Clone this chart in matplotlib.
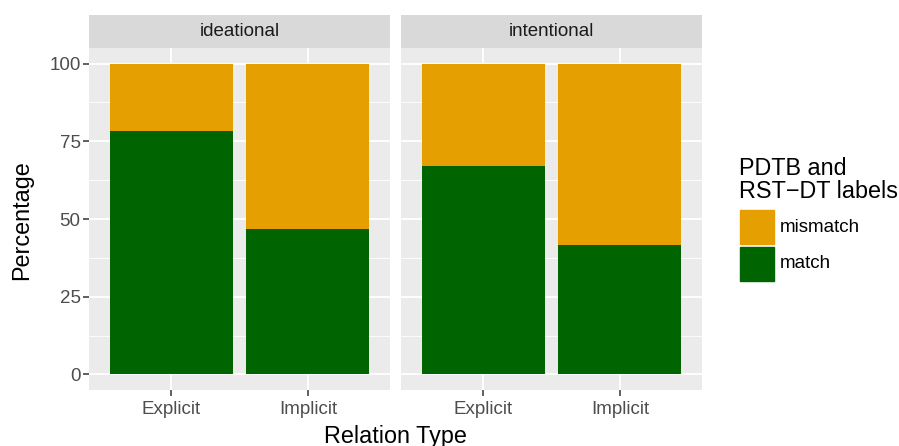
import matplotlib
matplotlib.use("Agg")
import matplotlib.pyplot as plt
from matplotlib.patches import Rectangle

plt.rcParams['font.family'] = ['Liberation Sans', 'DejaVu Sans']

panels = ["ideational", "intentional"]
categories = ["Explicit", "Implicit"]
match = {"ideational": [78.2, 46.7], "intentional": [66.9, 41.5]}
mismatch = {p: [100 - v for v in match[p]] for p in panels}
yticks = [0, 25, 50, 75, 100]
legend_labels = ["mismatch", "match"]
col_mismatch = "#E69F00"
col_match = "#006400"

SMALL = 13.5
BIG = 16.8

W, H = 899, 446
fig = plt.figure(figsize=(W / 100, H / 100), dpi=100)

def fx(px):
    return px / W

def fy(py):
    return 1 - py / H

panel_x = [(89, 390), (401, 702)]
top, bottom = 48, 390
strip_top = 15

for i, p in enumerate(panels):
    x0, x1 = panel_x[i]
    ax = fig.add_axes([fx(x0), fy(bottom), fx(x1 - x0), (bottom - top) / H])
    ax.set_facecolor("#EBEBEB")
    xs = list(range(1, len(categories) + 1))
    ax.bar(xs, match[p], width=0.9, color=col_match, zorder=3)
    ax.bar(xs, mismatch[p], width=0.9, bottom=match[p], color=col_mismatch, zorder=3)
    ax.set_xlim(0.4, 2.6)
    ax.set_ylim(-5, 105)
    ax.set_yticks(yticks)
    ax.set_yticks([12.5, 37.5, 62.5, 87.5], minor=True)
    ax.set_xticks(xs)
    ax.set_xticklabels(categories)
    ax.grid(which="major", color="white", linewidth=1.3, zorder=0)
    ax.grid(which="minor", axis="y", color="white", linewidth=0.6, zorder=0)
    for s in ax.spines.values():
        s.set_visible(False)
    ax.tick_params(axis="both", which="major", length=4, width=1.1, color="#333333",
                   labelsize=SMALL, labelcolor="#4D4D4D", pad=2)
    ax.tick_params(axis="x", which="major", pad=4)
    ax.tick_params(axis="y", which="minor", length=0)
    if i == 0:
        ax.set_yticklabels([str(t) for t in yticks])
    else:
        ax.tick_params(axis="y", which="major", left=False, labelleft=False)
    # strip
    sax = fig.add_axes([fx(x0), fy(top), fx(x1 - x0), (top - strip_top) / H])
    sax.set_facecolor("#D9D9D9")
    sax.set_xticks([]); sax.set_yticks([])
    for s in sax.spines.values():
        s.set_visible(False)
    sax.text(0.5, 0.5, p, ha="center", va="center", fontsize=SMALL, color="#1A1A1A",
             transform=sax.transAxes)

fig.text(fx(395), fy(443), "Relation Type", ha="center", va="baseline", fontsize=BIG, color="black")
fig.text(fx(22), fy(220), "Percentage", ha="center", va="center", rotation=90, fontsize=BIG, color="black")

# legend
fig.text(fx(739), fy(157), "PDTB and\nRST\u2212DT labels", ha="left", va="top", fontsize=BIG,
         color="black", linespacing=1.0)
for j, (lab, col) in enumerate(zip(legend_labels, [col_mismatch, col_match])):
    ky = 210 + j * 37
    fig.patches.append(Rectangle((fx(740), fy(ky + 34)), fx(34), 34 / H, color=col,
                                 transform=fig.transFigure, figure=fig))
    fig.text(fx(780), fy(ky + 17), lab, ha="left", va="center", fontsize=SMALL, color="black")

fig.savefig("out.png", dpi=100)
